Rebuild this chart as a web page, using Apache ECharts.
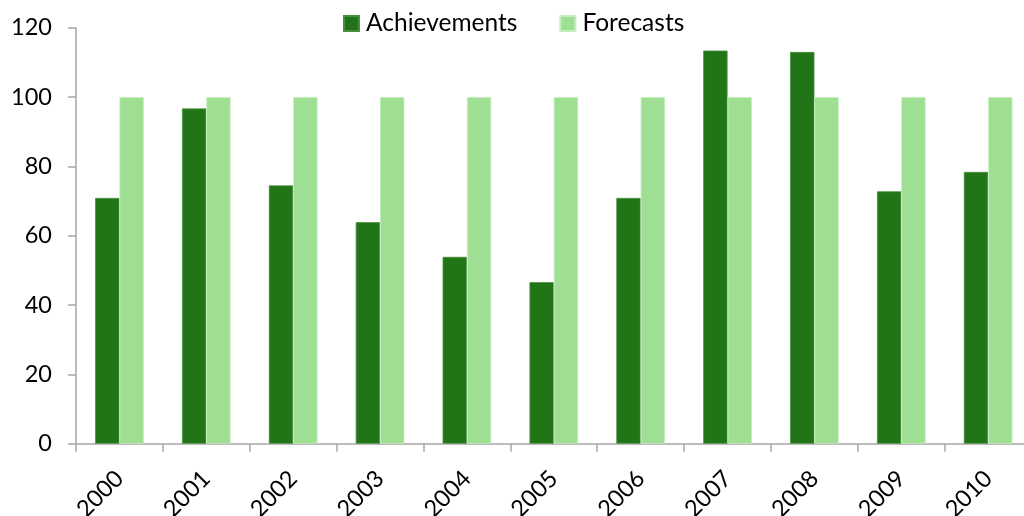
<!DOCTYPE html>
<html>
<head>
<meta charset="utf-8">
<script src="https://cdn.jsdelivr.net/npm/echarts@6/dist/echarts.min.js"></script>
<style>html,body{margin:0;padding:0;background:#fff}#c{width:1024px;height:516px}</style>
</head>
<body>
<div id="c"></div>
<script>
var categories = ['2000','2001','2002','2003','2004','2005','2006','2007','2008','2009','2010'];
var achievements = [70.9, 96.7, 74.5, 63.9, 53.9, 46.6, 70.9, 113.4, 113.0, 72.8, 78.4];
var forecasts = [100, 100, 100, 100, 100, 100, 100, 100, 100, 100, 100];
var yTicks = [0, 20, 40, 60, 80, 100, 120];

var chart = echarts.init(document.getElementById('c'));
var font = 'Lato, "Open Sans", sans-serif';
chart.setOption({
  animation: false,
  textStyle: {fontFamily: font},
  legend: {
    top: 11, left: 343, padding: 0,
    icon: 'rect',
    itemWidth: 15, itemHeight: 15, itemGap: 42,
    textStyle: {fontSize: 24.5, color: '#000', fontFamily: font, padding: [0, 0, 0, 2]},
    data: ['Achievements', 'Forecasts']
  },
  grid: {left: 76, right: -7.6, top: 27.7, bottom: 72.3, containLabel: false, outerBoundsMode: 'none'},
  xAxis: {
    type: 'category',
    data: categories,
    axisLine: {lineStyle: {color: '#a6a6a6', width: 1.5}},
    axisTick: {show: true, length: 8, lineStyle: {color: '#a6a6a6', width: 1.5}},
    axisLabel: {rotate: 45, fontSize: 23.5, color: '#000', margin: 31, fontFamily: font, interval: 0}
  },
  yAxis: {
    type: 'value',
    min: 0, max: 120, interval: 20,
    axisLine: {show: true, lineStyle: {color: '#a6a6a6', width: 1.5}},
    axisTick: {show: true, length: 8, lineStyle: {color: '#a6a6a6', width: 1.5}},
    splitLine: {show: false},
    axisLabel: {fontSize: 23.5, color: '#000', margin: 24, fontFamily: font,
      formatter: function (v) { return yTicks.indexOf(v) >= 0 ? String(v) : ''; }}
  },
  series: [
    {name: 'Achievements', type: 'bar', data: achievements, barGap: '0%', barCategoryGap: '44%',
      itemStyle: {color: '#217516', borderColor: '#4a8f40', borderWidth: 0.8}},
    {name: 'Forecasts', type: 'bar', data: forecasts, barGap: '0%', barCategoryGap: '44%',
      itemStyle: {color: '#9edf93', borderColor: '#c4efbc', borderWidth: 0.8}}
  ]
});
</script>
</body>
</html>
